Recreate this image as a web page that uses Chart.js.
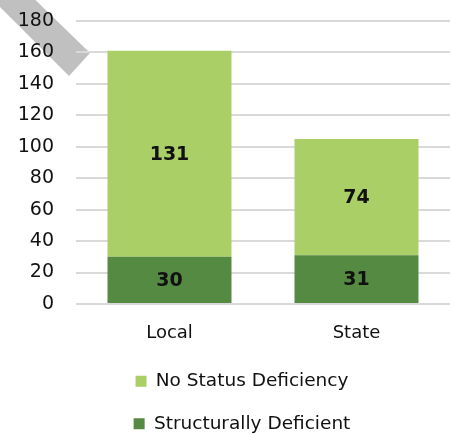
<!DOCTYPE html>
<html>
<head>
<meta charset="utf-8">
<script src="https://cdn.jsdelivr.net/npm/chart.js@4"></script>
<style>
  html, body { margin: 0; padding: 0; background: #fff; }
  #wrap { width: 451px; height: 434px; }
</style>
</head>
<body>
<div id="wrap"><canvas id="chart" width="451" height="434"></canvas></div>
<script>
const categories = ['Local', 'State'];
const structurallyDeficient = [30, 31];
const noStatusDeficiency = [131, 74];
const yTicks = [0, 20, 40, 60, 80, 100, 120, 140, 160, 180];

const FONT = "'DejaVu Sans', sans-serif";

// grey ribbon in the top-left corner
const ribbon = {
  id: 'ribbon',
  beforeDraw(chart) {
    const c = chart.ctx;
    c.save();
    c.fillStyle = '#c0c0c0';
    c.beginPath();
    c.moveTo(20, -15);
    c.lineTo(90, 53);
    c.lineTo(69, 76);
    c.lineTo(-10, -3);
    c.closePath();
    c.fill();
    c.restore();
  }
};

// value labels in the middle of each segment
const segLabels = {
  id: 'segLabels',
  afterDatasetsDraw(chart) {
    const c = chart.ctx;
    c.save();
    c.font = "bold 19px " + FONT;
    c.fillStyle = '#111';
    c.textAlign = 'center';
    c.textBaseline = 'middle';
    chart.data.datasets.forEach((ds, i) => {
      chart.getDatasetMeta(i).data.forEach((bar, j) => {
        const p = bar.getCenterPoint();
        c.fillText(ds.data[j], p.x, p.y + 1);
      });
    });
    c.restore();
  }
};

// legend sits a little right of the canvas centre
const nudgeLegend = {
  id: 'nudgeLegend',
  afterLayout(chart) {
    chart.legend.left += 20;
  }
};

new Chart(document.getElementById('chart'), {
  type: 'bar',
  data: {
    labels: categories,
    datasets: [
      { label: 'Structurally Deficient', data: structurallyDeficient, backgroundColor: '#558a42' },
      { label: 'No Status Deficiency', data: noStatusDeficiency, backgroundColor: '#a9cf66' }
    ]
  },
  options: {
    responsive: false,
    animation: false,
    layout: { padding: { left: 14, right: 1, top: 21, bottom: -9 } },
    datasets: { bar: { barPercentage: 0.663, categoryPercentage: 1 } },
    scales: {
      x: {
        stacked: true,
        grid: { display: false },
        border: { display: false },
        ticks: { color: '#111', font: { family: FONT, size: 18 }, padding: 11 },
        afterFit: (axis) => { axis.height = 44; }
      },
      y: {
        stacked: true,
        min: 0,
        max: 180,
        afterBuildTicks: (axis) => { axis.ticks = yTicks.map(v => ({ value: v })); },
        grid: { color: '#d9d9d9', lineWidth: 2, drawTicks: true, tickLength: 20, tickColor: 'rgba(0,0,0,0)' },
        border: { display: false },
        ticks: { color: '#111', font: { family: FONT, size: 19 }, padding: 2 },
        afterFit: (axis) => { axis.width = 62; }
      }
    },
    plugins: {
      legend: {
        position: 'bottom',
        reverse: true,
        labels: {
          boxWidth: 11,
          boxHeight: 11,
          padding: 24,
          color: '#111',
          font: { family: FONT, size: 18.5 }
        }
      },
      tooltip: { enabled: false }
    }
  },
  plugins: [ribbon, segLabels, nudgeLegend]
});
</script>
</body>
</html>
